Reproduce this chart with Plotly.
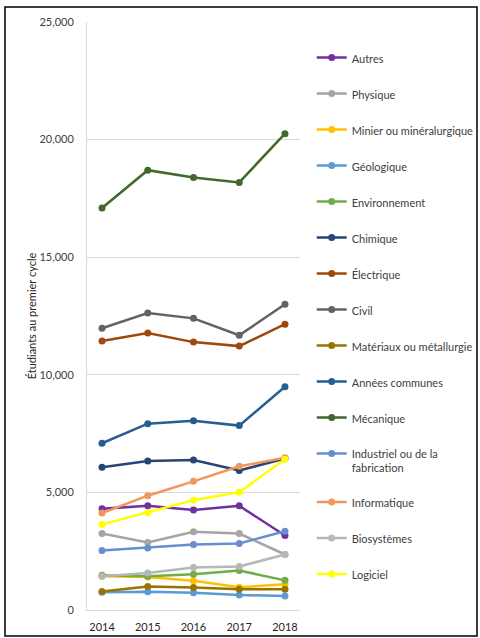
import plotly.graph_objects as go

years = ["2014", "2015", "2016", "2017", "2018"]

autres = [4300, 4430, 4250, 4430, 3170]
physique = [3250, 2870, 3330, 3250, 2360]
minier = [1440, 1400, 1240, 970, 1090]
geologique = [750, 780, 730, 640, 590]
environnement = [1480, 1440, 1520, 1680, 1260]
chimique = [6070, 6330, 6380, 5930, 6440]
electrique = [11440, 11780, 11390, 11220, 12150]
civil = [11980, 12630, 12400, 11680, 13000]
materiaux = [790, 1000, 960, 880, 880]
annees_communes = [7090, 7920, 8050, 7840, 9490]
mecanique = [17090, 18700, 18390, 18180, 20250]
industriel = [2530, 2640, 2780, 2830, 3350]
informatique = [4120, 4860, 5470, 6110, 6470]
biosystemes = [1440, 1570, 1810, 1850, 2360]
logiciel = [3640, 4140, 4670, 5010, 6410]

y_ticks = [0, 5000, 10000, 15000, 20000, 25000]
y_tick_labels = ["0", "5,000", "10,000", "15,000", "20,000", "25,000"]

series = [
    ("Autres", autres, "#7030A0"),
    ("Physique", physique, "#A5A5A5"),
    ("Minier ou minéralurgique", minier, "#FFC000"),
    ("Géologique", geologique, "#5B9BD5"),
    ("Environnement", environnement, "#70AD47"),
    ("Chimique", chimique, "#264478"),
    ("Électrique", electrique, "#9E480E"),
    ("Civil", civil, "#636363"),
    ("Matériaux ou métallurgie", materiaux, "#997300"),
    ("Années communes", annees_communes, "#255E91"),
    ("Mécanique", mecanique, "#43682B"),
    ("Industriel ou de la<br>fabrication", industriel, "#698ED0"),
    ("Informatique", informatique, "#F1975A"),
    ("Biosystèmes", biosystemes, "#B7B7B7"),
    ("Logiciel", logiciel, "#FFFF00"),
]

fig = go.Figure()
for i, (name, vals, color) in enumerate(series):
    fig.add_trace(go.Scatter(
        x=years, y=vals, name=name, mode="lines+markers",
        line=dict(color=color, width=2.5),
        marker=dict(color=color, size=7),
        legendgroup=f"g{i}",
    ))

FONT = "Lato, Liberation Sans, sans-serif"

fig.update_layout(
    width=480, height=638,
    margin=dict(l=87, r=180, t=22, b=28, autoexpand=False),
    paper_bgcolor="white", plot_bgcolor="white",
    font=dict(family=FONT, size=11, color="#404040"),
    showlegend=True,
    legend=dict(
        x=1.055, xanchor="left", y=0.963, yanchor="top",
        tracegroupgap=17, valign="top",
        font=dict(family=FONT, size=11, color="#404040"),
        bgcolor="rgba(0,0,0,0)",
    ),
    xaxis=dict(
        type="category", showgrid=False, showline=True, linecolor="#D9D9D9",
        linewidth=1, ticks="", ticklabelstandoff=7, automargin=False,
        tickfont=dict(family=FONT, size=11, color="#262626"),
    ),
    yaxis=dict(
        range=[0, 25000], tickvals=y_ticks, ticktext=y_tick_labels,
        showgrid=True, gridcolor="#D9D9D9", gridwidth=1,
        showline=True, linecolor="#D9D9D9", linewidth=1, zeroline=False,
        ticks="", ticklabelstandoff=10, automargin=False,
        tickfont=dict(family=FONT, size=11, color="#404040"),
        title=dict(text="Étudiants au premier cycle", standoff=0,
                   font=dict(family=FONT, size=11, color="#262626")),
    ),
)

fig.add_shape(type="rect", xref="paper", yref="paper",
              x0=(5 - 87) / 213, x1=(477 - 87) / 213,
              y0=(610 - 636) / 588, y1=(610 - 7) / 588,
              line=dict(color="black", width=1.5), fillcolor="rgba(0,0,0,0)",
              layer="above")

fig.write_html(
    "out.html",
    config={"displayModeBar": False},
    post_script="document.body.style.margin='0';document.body.style.overflow='hidden';",
)
